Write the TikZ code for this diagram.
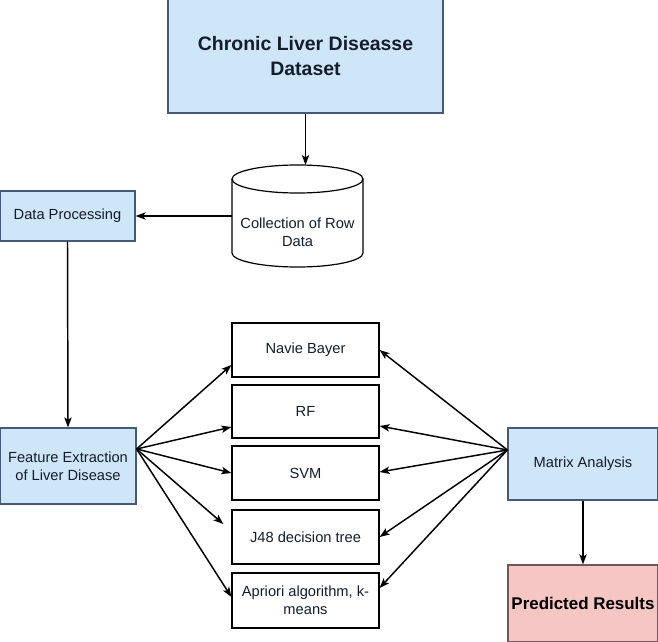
\documentclass[tikz,border=0pt]{standalone}
\usepackage{fontspec}
\setmainfont{Liberation Sans}
\usetikzlibrary{arrows.meta,calc}
\definecolor{blueF}{RGB}{206,230,248}
\definecolor{blueD}{RGB}{70,90,120}
\definecolor{pinkF}{RGB}{246,198,196}
\definecolor{pinkD}{RGB}{120,85,85}
\definecolor{txt}{RGB}{20,28,45}
\begin{document}
\begin{tikzpicture}[x=0.75pt,y=-0.75pt,
  every node/.style={font=\fontsize{11}{13.5}\selectfont, text=txt, align=center, inner sep=0pt},
  bx/.style 2 args={draw=black, line width=0.9pt, fill=white, minimum width=#1*0.75pt, minimum height=#2*0.75pt},
  bluebox/.style 2 args={bx={#1}{#2}, draw=blueD, fill=blueF},
  pinkbox/.style 2 args={bx={#1}{#2}, draw=pinkD, fill=pinkF},
  arr/.style={line width=1.1pt, -{Stealth[length=7.5pt,width=5.5pt,inset=1.8pt]}}]
\useasboundingbox (0,0) rectangle (658,642);
\fill[white] (0,0) rectangle (658,642);
% nodes
\node[bluebox={275}{114}, font=\bfseries\fontsize{14.6}{19}\selectfont] (top) at (305.5,56) {Chronic Liver Diseasse\\Dataset};
% cylinder
\draw[line width=0.9pt, fill=white] (232,179) -- (232,253) arc [start angle=180, end angle=360, x radius=49.125pt, y radius=10.5pt] -- (363,179);
\draw[line width=0.9pt, fill=white] (297.5,179) ellipse [x radius=49.125pt, y radius=10.5pt];
\node[minimum width=131*0.75pt, minimum height=70*0.75pt] (cyl) at (297.5,232) {Collection of Row\\Data};
\node[bluebox={135}{50}] (dp) at (67.5,216) {Data Processing};
\node[bluebox={136}{76}] (fe) at (68,466) {Feature Extraction\\of Liver Disease};
\node[bx={147}{54}] (nb) at (305.5,350) {Navie Bayer};
\node[bx={147}{53}] (rf) at (305.5,411.5) {RF};
\node[bx={147}{54}] (svm) at (305.5,473) {SVM};
\node[bx={147}{54}] (j48) at (305.5,537) {J48 decision tree};
\node[bx={147}{55}] (ap) at (305.5,600.5) {Apriori algorithm, k-\\means};
\node[bluebox={150}{72}] (ma) at (583,464) {Matrix Analysis};
\node[pinkbox={150}{77}, font=\bfseries\fontsize{12.7}{15}\selectfont, text=black] (pr) at (583,603.5) {Predicted Results};
% coordinates
\coordinate (fes) at (fe.east |- 0,449);
\coordinate (mas) at (ma.west |- 0,450);
% connectors
\draw[arr] (top.south) -- (top.south |- 0,165);
\draw[arr] (cyl.west |- dp.east) -- (dp.east);
\draw[arr] (dp.south) -- (fe.north);
\draw[arr] (fes) -- (nb.west |- 0,365);
\draw[arr] (fes) -- (rf.west |- 0,427);
\draw[arr] (fes) -- (svm.west |- 0,473);
\draw[arr, shorten >=8pt] (fes) -- (j48.west |- 0,531);
\draw[arr] (fes) -- (ap.west |- 0,597);
\draw[arr] (mas) -- (nb.east |- 0,350);
\draw[arr] (mas) -- (rf.east |- 0,426);
\draw[arr] (mas) -- (svm.east |- 0,472);
\draw[arr] (mas) -- (j48.east |- 0,537);
\draw[arr] (mas) -- (ap.east |- 0,588);
\draw[arr] (ma.south) -- (pr.north);
\end{tikzpicture}
\end{document}
